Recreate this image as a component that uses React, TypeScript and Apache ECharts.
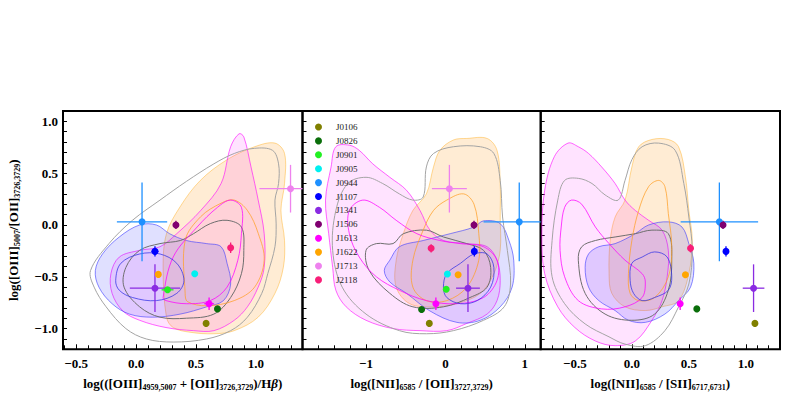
import React, { useEffect, useRef } from 'react';
import * as echarts from 'echarts';

const NAMES = ['J0106', 'J0826', 'J0901', 'J0905', 'J0944', 'J1107', 'J1341', 'J1506', 'J1613', 'J1622', 'J1713', 'J2118'];
const COLORS = ['#808000', '#0a6e0a', '#22f022', '#00f0f0', '#1e90ff', '#0000ff', '#8a2be2', '#800070', '#ff00ff', '#ffa500', '#ee82ee', '#f81e78'];

// Y axis ticks (shared by the three panels)
const Y_LABELS = [-1.0, -0.5, 0.0, 0.5, 1.0];
const Y_TICKS = [-1.1, -1.0, -0.9, -0.8, -0.7, -0.6, -0.5, -0.4, -0.3, -0.2, -0.1, 0.0, 0.1, 0.2, 0.3, 0.4, 0.5, 0.6, 0.7, 0.8, 0.9, 1.0];

// Panel 1: log(([OIII]+[OII])/Hb) vs log([OIII]/[OII])
const P1_X = [0.585, 0.68, 0.263, 0.49, 0.05, 0.158, 0.158, 0.333, 0.61, 0.186, 1.29, 0.79];
const P1_Y = [-0.95, -0.81, -0.626, -0.47, 0.03, -0.255, -0.61, 0.0, -0.76, -0.477, 0.35, -0.22];
const P1_XERR = [0, 0, 0.05, 0, 0.21, 0.03, 0.21, 0.02, 0.04, 0, 0.26, 0.015];
const P1_YERR = [0, 0, 0, 0, 0.38, 0.05, 0.23, 0.04, 0.06, 0, 0.23, 0.05];

// Panel 2: log([NII]/[OII]) vs log([OIII]/[OII])
const P2_X = [-0.203, -0.3, 0.01, 0.025, 0.93, 0.364, 0.284, 0.36, -0.12, 0.16, 0.05, -0.18];
const P2_Y = [-0.95, -0.816, -0.62, -0.474, 0.03, -0.255, -0.61, 0.0, -0.76, -0.48, 0.35, -0.225];
const P2_XERR = [0, 0, 0, 0, 0.45, 0.03, 0.15, 0.02, 0.02, 0, 0.22, 0.015];
const P2_YERR = [0, 0, 0, 0, 0.38, 0.05, 0.23, 0.04, 0.06, 0, 0.23, 0.04];

// Panel 3: log([NII]/[SII]) vs log([OIII]/[OII])
const P3_X = [1.08, 0.57, null, null, 0.768, 0.826, 1.068, 0.8, 0.424, 0.47, null, 0.515];
const P3_Y = [-0.95, -0.81, null, null, 0.03, -0.255, -0.61, 0.0, -0.76, -0.48, null, -0.225];
const P3_XERR = [0, 0, null, null, 0.34, 0.02, 0.095, 0.02, 0.02, 0, null, 0.015];
const P3_YERR = [0, 0, null, null, 0.38, 0.05, 0.23, 0.04, 0.06, 0, null, 0.04];

// Density contours, panel 1
const C1_GRAY_OUT = [[-0.38, -0.44], [-0.226, -0.18], [-0.03, 0.045], [0.2, 0.24], [0.42, 0.42], [0.65, 0.59], [0.82, 0.69], [0.99, 0.74], [1.14, 0.72], [1.19, 0.59], [1.19, 0.4], [1.16, 0.24], [1.17, 0.01], [1.16, -0.21], [1.1, -0.47], [1.05, -0.66], [0.93, -0.89], [0.79, -1.02], [0.59, -1.1], [0.31, -1.13], [0.085, -1.1], [-0.085, -1.0], [-0.25, -0.79], [-0.35, -0.6]];
const C1_GRAY_IN = [[-0.1, -0.6], [-0.085, -0.41], [0.03, -0.245], [0.2, -0.18], [0.37, -0.15], [0.48, -0.084], [0.62, 0.013], [0.76, 0.045], [0.88, -0.02], [0.9, -0.245], [0.88, -0.47], [0.79, -0.7], [0.65, -0.86], [0.42, -0.9], [0.2, -0.89], [0.03, -0.79]];
const C1_ORANGE_OUT = [[0.254, -0.89], [0.226, -0.41], [0.254, -0.084], [0.367, 0.174], [0.537, 0.43], [0.76, 0.63], [0.99, 0.755], [1.16, 0.79], [1.24, 0.69], [1.24, 0.4], [1.21, 0.14], [1.24, -0.15], [1.23, -0.41], [1.16, -0.66], [1.02, -0.89], [0.82, -1.02], [0.65, -1.05], [0.45, -1.035], [0.31, -0.99]];
const C1_ORANGE_IN = [[0.41, -0.66], [0.41, -0.15], [0.54, 0.08], [0.71, 0.21], [0.82, 0.24], [0.93, 0.14], [1.02, -0.08], [1.07, -0.34], [0.99, -0.6], [0.82, -0.73], [0.59, -0.78], [0.43, -0.74]];
const C1_MAGENTA_OUT = [[0.86, 0.88], [0.79, 0.755], [0.71, 0.4], [0.54, 0.14], [0.34, -0.084], [0.2, -0.21], [0.03, -0.245], [-0.14, -0.31], [-0.21, -0.47], [-0.2, -0.66], [-0.11, -0.83], [0.03, -0.92], [0.25, -0.99], [0.48, -1.02], [0.65, -1.02], [0.82, -0.92], [0.93, -0.79], [1.02, -0.6], [1.07, -0.41], [1.07, -0.084], [1.02, 0.24], [0.96, 0.56], [0.9, 0.85]];
const C1_MAGENTA_IN = [[0.226, -0.7], [0.31, -0.31], [0.51, -0.02], [0.68, 0.17], [0.79, 0.24], [0.88, 0.17], [0.88, -0.084], [0.85, -0.34], [0.76, -0.6], [0.62, -0.73], [0.42, -0.76], [0.25, -0.73]];
const C1_BLUE_OUT = [[-0.34, -0.44], [-0.28, -0.28], [-0.14, -0.116], [0.03, 0.0], [0.17, 0.0], [0.28, -0.084], [0.42, -0.15], [0.59, -0.18], [0.71, -0.21], [0.76, -0.37], [0.79, -0.57], [0.73, -0.73], [0.59, -0.79], [0.37, -0.86], [0.14, -0.89], [-0.056, -0.86], [-0.2, -0.76], [-0.31, -0.6]];
const C1_BLUE_IN = [[-0.17, -0.535], [-0.127, -0.37], [0.03, -0.28], [0.2, -0.28], [0.34, -0.37], [0.4, -0.535], [0.34, -0.66], [0.17, -0.73], [-0.03, -0.7], [-0.14, -0.63]];

// Density contours, panel 2
const C2_GRAY_OUT = [[-1.23, 0.4], [-1.0, 0.46], [-0.79, 0.4], [-0.58, 0.3], [-0.41, 0.24], [-0.28, 0.27], [-0.24, 0.56], [-0.15, 0.69], [0.1, 0.755], [0.44, 0.755], [0.61, 0.69], [0.69, 0.43], [0.72, 0.077], [0.78, -0.245], [0.82, -0.57], [0.74, -0.79], [0.48, -0.92], [0.1, -1.02], [-0.24, -1.05], [-0.58, -1.02], [-1.0, -0.86], [-1.3, -0.6], [-1.42, -0.245], [-1.38, 0.14]];
const C2_GRAY_IN = [[-1.0, -0.245], [-0.87, -0.18], [-0.66, -0.18], [-0.53, -0.084], [-0.24, -0.05], [-0.025, -0.116], [0.27, -0.18], [0.48, -0.245], [0.57, -0.41], [0.525, -0.6], [0.31, -0.7], [-0.025, -0.79], [-0.41, -0.79], [-0.7, -0.66], [-0.96, -0.44]];
const C2_ORANGE_OUT = [[0.27, 0.835], [0.525, 0.835], [0.65, 0.72], [0.69, 0.4], [0.69, 0.077], [0.69, -0.245], [0.61, -0.47], [0.44, -0.66], [0.144, -0.76], [-0.15, -0.79], [-0.45, -0.76], [-0.62, -0.6], [-0.62, -0.34], [-0.53, -0.084], [-0.41, 0.14], [-0.24, 0.3], [-0.15, 0.56], [-0.07, 0.72], [0.1, 0.82]];
const C2_ORANGE_IN = [[-0.41, -0.6], [-0.41, -0.34], [-0.28, -0.05], [-0.15, 0.14], [0.017, 0.24], [0.23, 0.3], [0.36, 0.2], [0.42, -0.084], [0.42, -0.34], [0.27, -0.6], [0.017, -0.73], [-0.24, -0.73]];
const C2_MAGENTA_OUT = [[-1.38, 0.755], [-1.21, 0.77], [-1.085, 0.72], [-0.915, 0.59], [-0.7, 0.46], [-0.49, 0.335], [-0.32, 0.14], [-0.195, -0.05], [-0.025, -0.15], [0.27, -0.18], [0.525, -0.21], [0.65, -0.34], [0.69, -0.535], [0.65, -0.73], [0.525, -0.86], [0.27, -0.95], [0.017, -1.02], [-0.32, -1.02], [-0.66, -1.0], [-1.0, -0.92], [-1.25, -0.79], [-1.38, -0.63], [-1.42, -0.41], [-1.47, -0.084], [-1.51, 0.24], [-1.44, 0.56]];
const C2_MAGENTA_IN = [[-1.21, 0.14], [-1.04, 0.24], [-0.83, 0.17], [-0.62, 0.045], [-0.36, -0.084], [-0.07, -0.15], [0.19, -0.18], [0.48, -0.21], [0.65, -0.34], [0.65, -0.535], [0.48, -0.7], [0.144, -0.76], [-0.24, -0.73], [-0.58, -0.63], [-0.87, -0.5], [-1.085, -0.31], [-1.21, -0.084]];
const C2_BLUE_OUT = [[-0.77, -0.44], [-0.7, -0.34], [-0.58, -0.21], [-0.28, -0.15], [0.06, -0.084], [0.36, -0.02], [0.48, 0.04], [0.69, 0.013], [0.8, -0.15], [0.86, -0.34], [0.84, -0.6], [0.69, -0.79], [0.44, -0.92], [0.144, -0.94], [-0.195, -0.83], [-0.49, -0.66], [-0.7, -0.55]];
const C2_BLUE_IN = [[-0.025, -0.6], [0.017, -0.47], [0.19, -0.37], [0.36, -0.28], [0.525, -0.28], [0.61, -0.41], [0.57, -0.6], [0.4, -0.73], [0.19, -0.76], [0.017, -0.7]];

// Density contours, panel 3
const C3_GRAY_OUT = [[-0.7, -0.15], [-0.65, 0.24], [-0.59, 0.43], [-0.47, 0.45], [-0.35, 0.4], [-0.235, 0.29], [-0.12, 0.24], [-0.06, 0.43], [0.0, 0.63], [0.09, 0.755], [0.235, 0.79], [0.38, 0.72], [0.456, 0.4], [0.5, 0.077], [0.53, -0.245], [0.5, -0.57], [0.41, -0.79], [0.29, -1.02], [0.118, -1.165], [-0.06, -1.15], [-0.2, -1.08], [-0.41, -0.955], [-0.59, -0.76], [-0.7, -0.5]];
const C3_GRAY_IN = [[-0.47, -0.34], [-0.44, -0.21], [-0.32, -0.15], [-0.147, -0.116], [0.03, -0.084], [0.176, -0.05], [0.32, -0.084], [0.35, -0.34], [0.32, -0.63], [0.2, -0.86], [0.0, -0.92], [-0.235, -0.86], [-0.41, -0.66]];
const C3_ORANGE_OUT = [[-0.2, -0.47], [-0.19, -0.15], [-0.147, 0.077], [-0.06, 0.24], [0.0, 0.56], [0.06, 0.755], [0.176, 0.825], [0.32, 0.825], [0.41, 0.755], [0.47, 0.465], [0.5, 0.14], [0.53, -0.15], [0.5, -0.47], [0.41, -0.73], [0.265, -0.79], [0.118, -0.826], [-0.06, -0.79], [-0.176, -0.66]];
const C3_ORANGE_IN = [[-0.03, -0.47], [0.0, -0.15], [0.06, 0.14], [0.147, 0.37], [0.235, 0.43], [0.29, 0.37], [0.32, 0.11], [0.35, -0.21], [0.32, -0.5], [0.2, -0.7], [0.06, -0.73], [-0.015, -0.66]];
const C3_MAGENTA_OUT = [[-0.56, 0.79], [-0.47, 0.755], [-0.38, 0.69], [-0.265, 0.56], [-0.147, 0.4], [-0.06, 0.24], [0.03, 0.14], [0.147, 0.045], [0.265, -0.05], [0.32, -0.245], [0.31, -0.5], [0.265, -0.73], [0.176, -0.92], [0.03, -1.12], [-0.147, -1.165], [-0.32, -1.12], [-0.5, -0.99], [-0.65, -0.79], [-0.765, -0.47], [-0.79, -0.084], [-0.765, 0.335], [-0.68, 0.66]];
const C3_MAGENTA_IN = [[-0.62, -0.02], [-0.59, 0.17], [-0.53, 0.24], [-0.44, 0.2], [-0.32, -0.02], [-0.2, -0.18], [-0.06, -0.34], [0.09, -0.47], [0.118, -0.55], [0.09, -0.7], [-0.06, -0.79], [-0.265, -0.81], [-0.47, -0.73], [-0.59, -0.5], [-0.63, -0.245]];
const C3_BLUE_OUT = [[-0.41, -0.41], [-0.38, -0.28], [-0.29, -0.21], [-0.147, -0.18], [0.03, -0.084], [0.147, 0.0], [0.32, 0.03], [0.44, -0.02], [0.5, -0.18], [0.544, -0.37], [0.515, -0.6], [0.41, -0.73], [0.29, -0.86], [0.118, -0.94], [-0.03, -0.92], [-0.147, -0.826], [-0.29, -0.73], [-0.38, -0.6]];
const C3_BLUE_IN = [[-0.015, -0.535], [0.0, -0.37], [0.09, -0.31], [0.2, -0.26], [0.31, -0.31], [0.35, -0.5], [0.32, -0.63], [0.2, -0.7], [0.09, -0.73], [0.015, -0.66]];

const FONT = '"Liberation Serif", "DejaVu Serif", serif';

const FILL = {
  orange: ['rgba(255,160,40,0.2)', 'rgba(255,165,0,0.4)'],
  magenta: ['rgba(255,0,255,0.11)', 'rgba(255,0,255,0.6)'],
  blue: ['rgba(60,60,255,0.16)', 'rgba(60,60,255,0.6)'],
};

function contour(gi: number, pts: number[][], fill: string, stroke: string, lw: number) {
  return {
    type: 'custom',
    xAxisIndex: gi,
    yAxisIndex: gi,
    silent: true,
    clip: true,
    z: 2,
    data: pts,
    encode: { x: 0, y: 1 },
    renderItem: (params: any, api: any) => {
      if (params.dataIndex !== 0) return null;
      const points = pts.map((p) => api.coord(p));
      return {
        type: 'polygon',
        shape: { points, smooth: 0.35 },
        style: { fill, stroke, lineWidth: lw },
      };
    },
  };
}

function errBars(gi: number, X: any[], Y: any[], XE: any[], YE: any[]) {
  const data: any[] = [];
  X.forEach((x, i) => {
    if (x == null) return;
    data.push([x, Y[i], XE[i], YE[i], i]);
  });
  return {
    type: 'custom',
    xAxisIndex: gi,
    yAxisIndex: gi,
    silent: true,
    z: 3,
    data,
    encode: { x: 0, y: 1 },
    renderItem: (params: any, api: any) => {
      const x = api.value(0), y = api.value(1), xe = api.value(2), ye = api.value(3);
      const ci = api.value(4);
      const cs = params.coordSys;
      const cx = (v: number) => Math.max(cs.x, Math.min(cs.x + cs.width, v));
      const cy = (v: number) => Math.max(cs.y, Math.min(cs.y + cs.height, v));
      const l = api.coord([x - xe, y]);
      const r = api.coord([x + xe, y]);
      const t = api.coord([x, y + ye]);
      const b = api.coord([x, y - ye]);
      const style = { stroke: COLORS[ci], lineWidth: 1.3 };
      const children: any[] = [];
      if (xe > 0) children.push({ type: 'line', shape: { x1: cx(l[0]), y1: l[1], x2: cx(r[0]), y2: r[1] }, style });
      if (ye > 0) children.push({ type: 'line', shape: { x1: t[0], y1: cy(t[1]), x2: b[0], y2: cy(b[1]) }, style });
      return { type: 'group', children };
    },
  };
}

function points(gi: number, X: any[], Y: any[]) {
  const out: any[] = [];
  X.forEach((x, i) => {
    if (x == null) return;
    out.push({
      type: 'scatter',
      name: NAMES[i],
      xAxisIndex: gi,
      yAxisIndex: gi,
      symbol: 'circle',
      symbolSize: 7,
      z: 4,
      itemStyle: { color: COLORS[i], opacity: 1 },
      data: [[x, Y[i]]],
    });
  });
  return out;
}

function panelContours(gi: number, c: any) {
  return [
    contour(gi, c.orangeOut, FILL.orange[0], FILL.orange[1], 1),
    contour(gi, c.magentaOut, FILL.magenta[0], FILL.magenta[1], 1),
    contour(gi, c.blueOut, FILL.blue[0], FILL.blue[1], 1),
    contour(gi, c.grayOut, 'none', '#a4a4a4', 1),
    contour(gi, c.grayIn, 'none', '#6e6e6e', 1),
    contour(gi, c.orangeIn, 'none', 'rgba(255,160,40,0.75)', 1),
    contour(gi, c.magentaIn, 'none', 'rgba(255,0,255,0.75)', 1),
    contour(gi, c.blueIn, 'none', 'rgba(50,50,230,0.75)', 1),
  ];
}

const fmtStep = (step: number, dec: number) => (v: any) => {
  const n = Number(v);
  const k = n / step;
  if (Math.abs(k - Math.round(k)) > 1e-6) return '';
  const s = Math.abs(n).toFixed(dec);
  return (n < -1e-9 ? '\u2212' : '') + s;
};

const RICH = {
  s: { fontFamily: FONT, fontSize: 8, fontWeight: 'bold', lineHeight: 8, verticalAlign: 'bottom', color: '#000' },
  b: { fontFamily: FONT, fontSize: 13, fontWeight: 'bold', fontStyle: 'italic', lineHeight: 16, color: '#000' },
};

const nameStyle = {
  fontFamily: FONT,
  fontSize: 13,
  fontWeight: 'bold',
  color: '#000',
  lineHeight: 16,
  rich: RICH,
};

function xAxis(gi: number, min: number, max: number, split: number, step: number, dec: number, name: string) {
  return {
    type: 'value',
    gridIndex: gi,
    position: 'bottom',
    min,
    max,
    splitNumber: split,
    name,
    nameLocation: 'middle',
    nameGap: 13,
    nameTextStyle: nameStyle,
    axisLine: { show: false, onZero: false },
    axisTick: { show: true, inside: true, length: 5, lineStyle: { color: '#000', width: 1 } },
    minorTick: { show: true, splitNumber: 5, length: 4, lineStyle: { color: '#000', width: 1 } },
    splitLine: { show: false },
    minorSplitLine: { show: false },
    axisLabel: {
      show: true,
      color: '#000',
      fontFamily: FONT,
      fontWeight: 'bold',
      fontSize: 13,
      margin: 8,
      formatter: fmtStep(step, dec),
    },
  };
}

function yAxis(gi: number, showLabel: boolean) {
  return {
    type: 'value',
    gridIndex: gi,
    position: 'left',
    min: -1.2,
    max: 1.1,
    name: showLabel ? 'log([OIII]{s|5007}/[OII]{s|3726,3729})' : '',
    nameLocation: 'middle',
    nameGap: 42,
    nameTextStyle: nameStyle,
    axisLine: { show: false, onZero: false },
    axisTick: { show: true, inside: true, length: 4, customValues: Y_TICKS, lineStyle: { color: '#000', width: 1 } },
    minorTick: { show: false },
    splitLine: { show: false },
    minorSplitLine: { show: false },
    axisLabel: {
      show: showLabel,
      customValues: Y_LABELS,
      color: '#000',
      fontFamily: FONT,
      fontWeight: 'bold',
      fontSize: 13,
      margin: 5,
      formatter: fmtStep(0.5, 1),
    },
  };
}

export default function App() {
  const ref = useRef<HTMLDivElement>(null);
  useEffect(() => {
    if (!ref.current) return;
    const chart = echarts.init(ref.current, null, { renderer: 'svg' });
    const grids = [
      { left: 63, top: 111, width: 239.5, height: 238.3 },
      { left: 302.5, top: 111, width: 238.2, height: 238.3 },
      { left: 540.7, top: 111, width: 239.3, height: 238.3 },
    ].map((g) => ({ ...g, show: true, borderColor: '#000', borderWidth: 2, backgroundColor: 'transparent', containLabel: false }));

    const series: any[] = [
      ...panelContours(0, { grayOut: C1_GRAY_OUT, grayIn: C1_GRAY_IN, orangeOut: C1_ORANGE_OUT, orangeIn: C1_ORANGE_IN, magentaOut: C1_MAGENTA_OUT, magentaIn: C1_MAGENTA_IN, blueOut: C1_BLUE_OUT, blueIn: C1_BLUE_IN }),
      ...panelContours(1, { grayOut: C2_GRAY_OUT, grayIn: C2_GRAY_IN, orangeOut: C2_ORANGE_OUT, orangeIn: C2_ORANGE_IN, magentaOut: C2_MAGENTA_OUT, magentaIn: C2_MAGENTA_IN, blueOut: C2_BLUE_OUT, blueIn: C2_BLUE_IN }),
      ...panelContours(2, { grayOut: C3_GRAY_OUT, grayIn: C3_GRAY_IN, orangeOut: C3_ORANGE_OUT, orangeIn: C3_ORANGE_IN, magentaOut: C3_MAGENTA_OUT, magentaIn: C3_MAGENTA_IN, blueOut: C3_BLUE_OUT, blueIn: C3_BLUE_IN }),
      errBars(0, P1_X, P1_Y, P1_XERR, P1_YERR),
      errBars(1, P2_X, P2_Y, P2_XERR, P2_YERR),
      errBars(2, P3_X, P3_Y, P3_XERR, P3_YERR),
      ...points(0, P1_X, P1_Y),
      ...points(1, P2_X, P2_Y),
      ...points(2, P3_X, P3_Y),
    ];

    chart.setOption({
      animation: false,
      backgroundColor: '#fff',
      grid: grids,
      xAxis: [
        xAxis(0, -0.61, 1.39, 4, 0.5, 1, 'log(([OIII]{s|4959,5007} + [OII]{s|3726,3729})/H{b|\u03B2})'),
        xAxis(1, -1.8, 1.2, 3, 1, 0, 'log([NII]{s|6585} / [OII]{s|3727,3729})'),
        xAxis(2, -0.8, 1.3, 4, 0.5, 1, 'log([NII]{s|6585} / [SII]{s|6717,6731})'),
      ],
      yAxis: [yAxis(0, true), yAxis(1, false), yAxis(2, false)],
      legend: {
        show: true,
        orient: 'vertical',
        left: 310,
        top: 117,
        itemWidth: 7,
        itemHeight: 7,
        itemGap: 3.9,
        selectedMode: false,
        textStyle: { fontFamily: FONT, fontSize: 9, color: '#222', lineHeight: 10, padding: [0, 0, 0, 9] },
        data: NAMES.map((n, i) => ({ name: n, icon: 'circle', itemStyle: { color: COLORS[i] } })),
      },
      series,
    });
    return () => chart.dispose();
  }, []);
  return <div ref={ref} style={{ position: 'fixed', left: 0, top: 0, width: 789, height: 397 }} />;
}
